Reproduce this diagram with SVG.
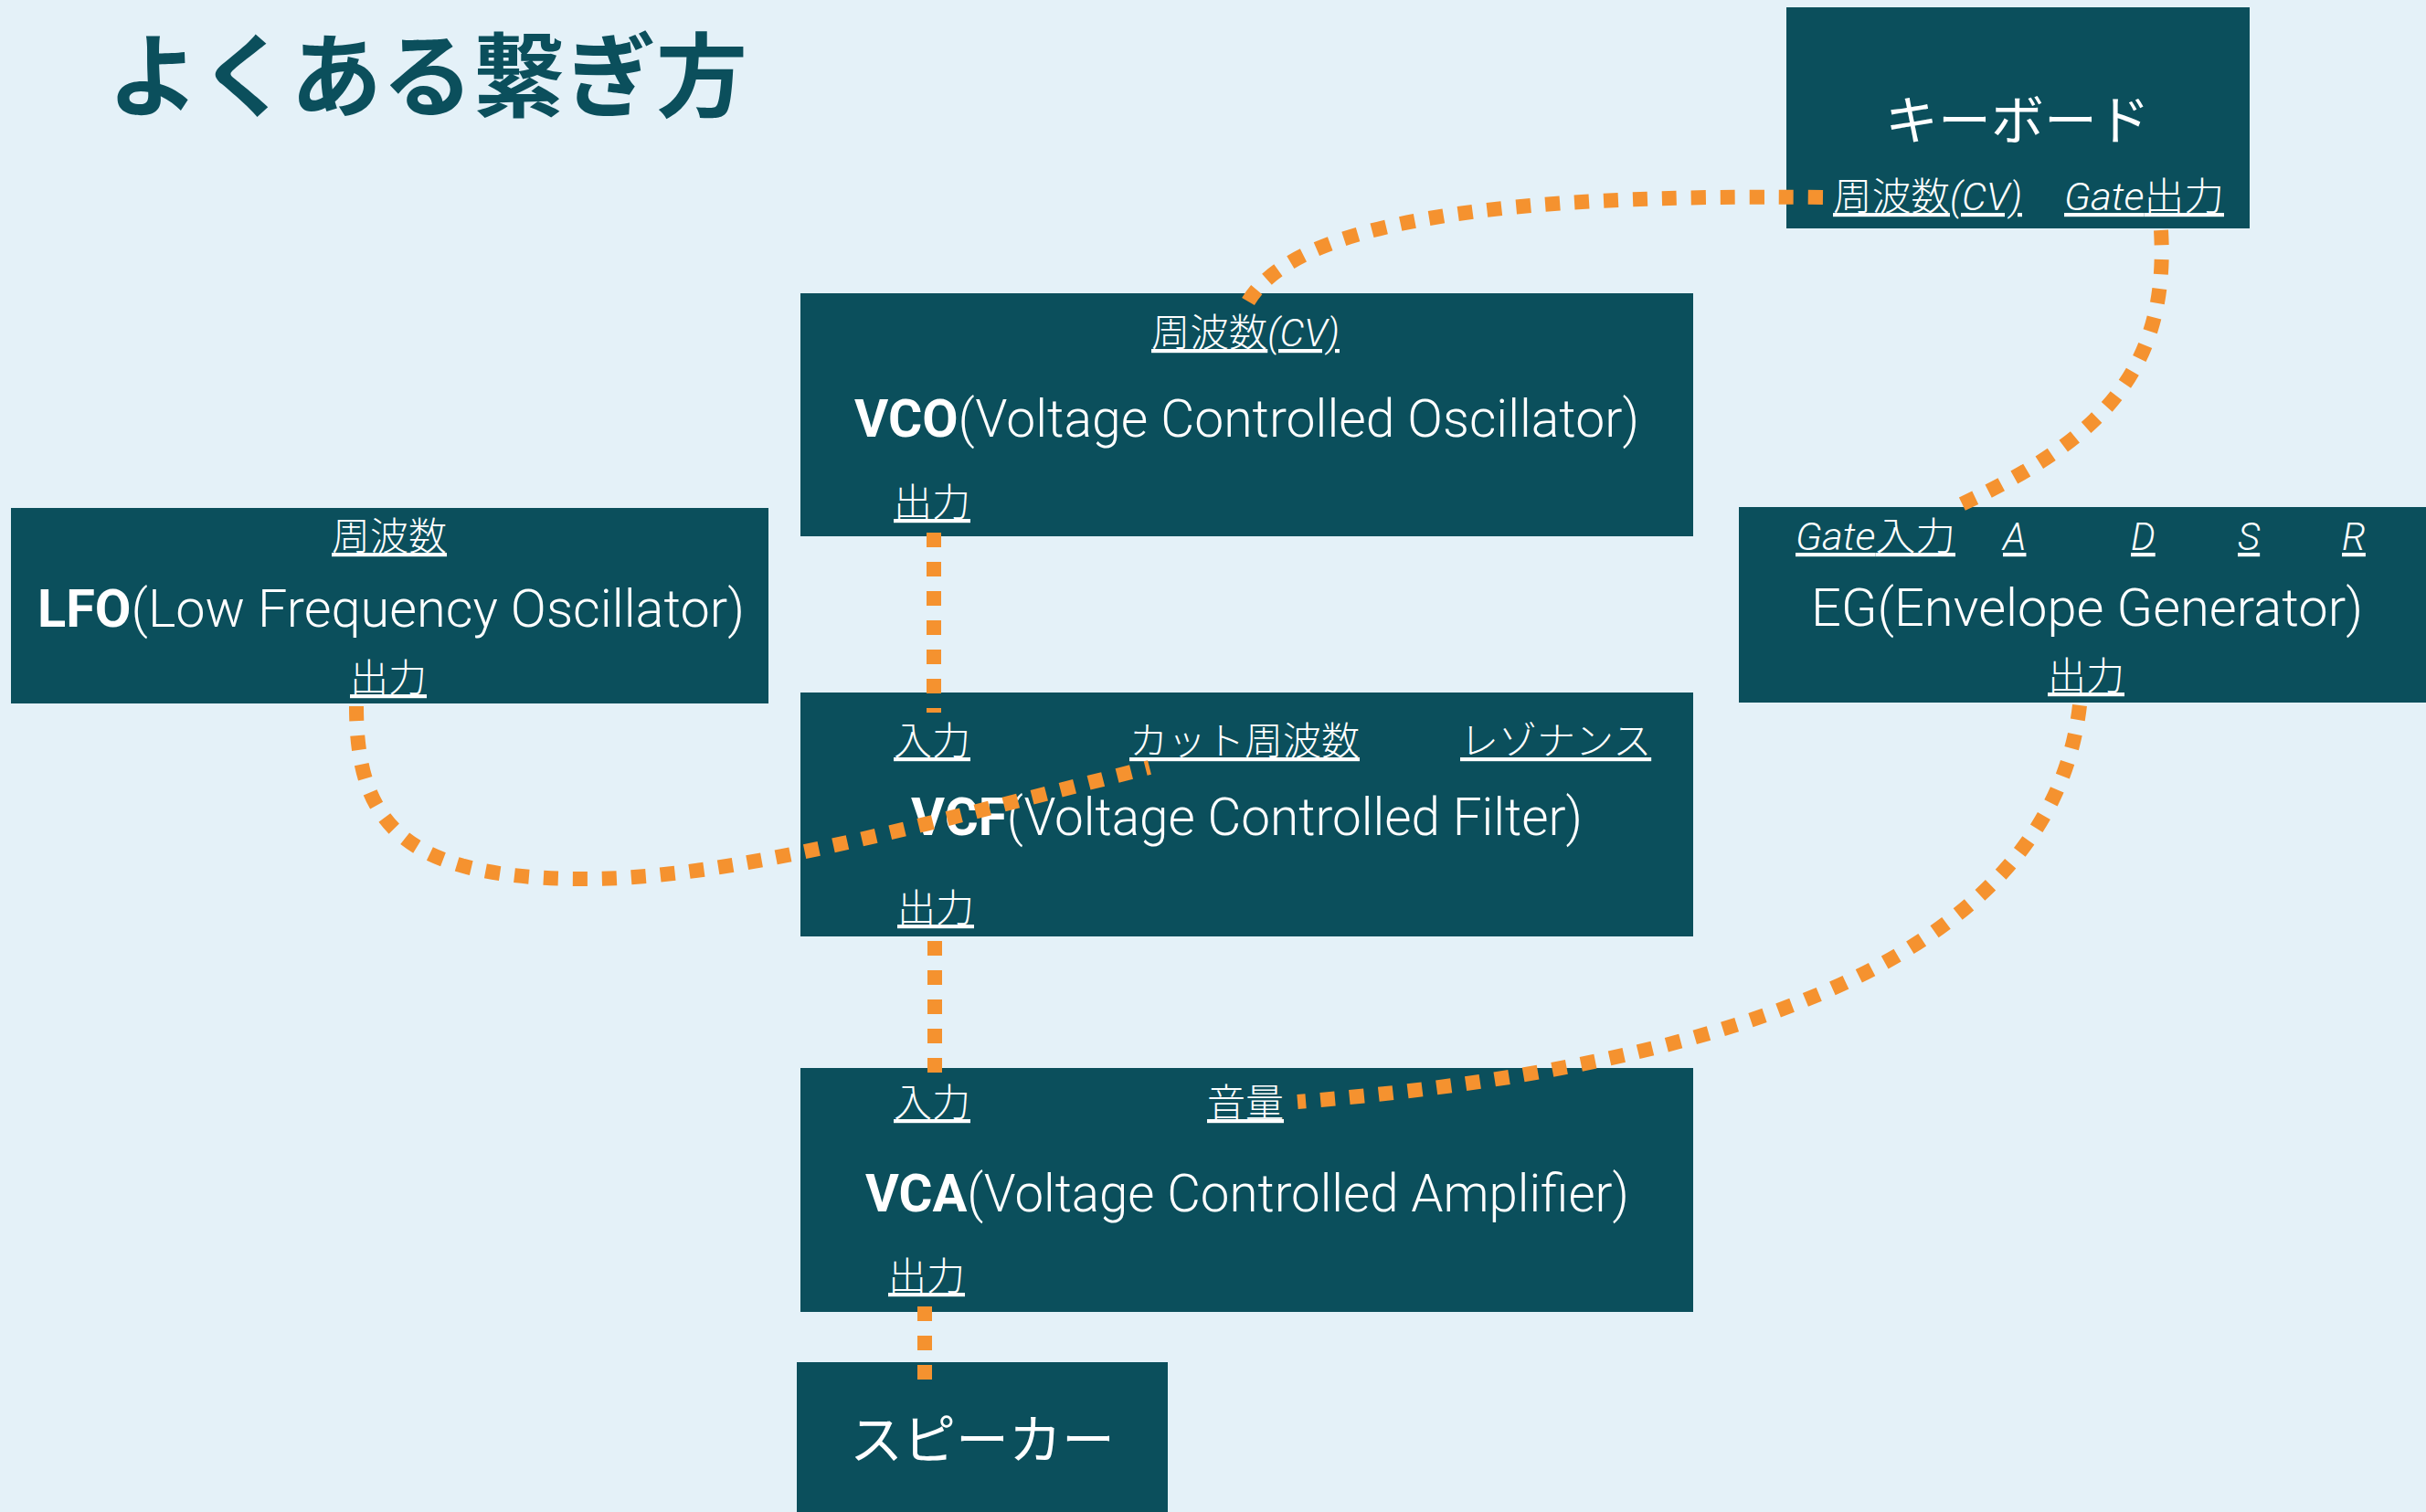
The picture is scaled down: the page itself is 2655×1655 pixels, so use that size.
<svg xmlns="http://www.w3.org/2000/svg" width="2655" height="1655" viewBox="0 0 2655 1655">
<style>
.bg{fill:#E4F1F8}
.node{fill:#0B4F5C}
.title{font-family:"Noto Sans CJK JP","Noto Sans",sans-serif;font-weight:700;font-size:100px;fill:#0B4F5C}
.name{font-family:Roboto,"Liberation Sans","Noto Sans CJK JP",sans-serif;font-weight:300;font-size:58px;fill:#FFFFFF}
.jname{font-family:"Noto Sans CJK JP",sans-serif;font-weight:400;font-size:58px;fill:#FFFFFF}
.b{font-weight:700}
.port{font-family:"Noto Sans CJK JP",sans-serif;font-weight:300;font-size:42px;fill:#FFFFFF;text-decoration:underline}
.it{font-family:Roboto,"Liberation Sans",sans-serif;font-style:italic;font-weight:300}
.wire{fill:none;stroke:#F5922F;stroke-width:16;stroke-dasharray:16 16;stroke-linecap:butt}
</style>
<rect class="bg" x="0" y="0" width="2655" height="1655"/>
<text class="title" x="118" y="120">よくある繋ぎ方</text>

<g id="keyboard">
<rect class="node" x="1955" y="8" width="507" height="242"/>
<text class="jname" x="2208" y="153" text-anchor="middle">キーボード</text>
<text class="port" x="2006" y="230" textLength="207" lengthAdjust="spacingAndGlyphs">周波数<tspan class="it">(CV)</tspan></text>
<text class="port" x="2259" y="230" textLength="175" lengthAdjust="spacingAndGlyphs"><tspan class="it">Gate</tspan>出力</text>
</g>

<g id="vco">
<rect class="node" x="876" y="321" width="977" height="266"/>
<text class="port" x="1260" y="379" textLength="206" lengthAdjust="spacingAndGlyphs">周波数<tspan class="it">(CV)</tspan></text>
<text class="name" x="935" y="478" textLength="859" lengthAdjust="spacingAndGlyphs"><tspan class="b">VCO</tspan>(Voltage Controlled Oscillator)</text>
<text class="port" x="978" y="565">出力</text>
</g>

<g id="lfo">
<rect class="node" x="12" y="556" width="829" height="214"/>
<text class="port" x="363" y="602">周波数</text>
<text class="name" x="41" y="686" textLength="774" lengthAdjust="spacingAndGlyphs"><tspan class="b">LFO</tspan>(Low Frequency Oscillator)</text>
<text class="port" x="383" y="757">出力</text>
</g>

<g id="eg">
<rect class="node" x="1903" y="555" width="760" height="214"/>
<text class="port" x="1965" y="602" textLength="175" lengthAdjust="spacingAndGlyphs"><tspan class="it">Gate</tspan>入力</text>
<text class="port it" x="2192" y="602">A</text>
<text class="port it" x="2332" y="602">D</text>
<text class="port it" x="2449" y="602">S</text>
<text class="port it" x="2563" y="602">R</text>
<text class="name" x="1982" y="685" textLength="604" lengthAdjust="spacingAndGlyphs">EG(Envelope Generator)</text>
<text class="port" x="2241" y="755">出力</text>
</g>

<g id="vcf">
<rect class="node" x="876" y="758" width="977" height="267"/>
<text class="port" x="978" y="826">入力</text>
<text class="port" x="1236" y="826">カット周波数</text>
<text class="port" x="1598" y="826">レゾナンス</text>
<text class="name" x="997" y="914" textLength="735" lengthAdjust="spacingAndGlyphs"><tspan class="b">VCF</tspan>(Voltage Controlled Filter)</text>
<text class="port" x="982" y="1009">出力</text>
</g>

<g id="vca">
<rect class="node" x="876" y="1169" width="977" height="267"/>
<text class="port" x="978" y="1222">入力</text>
<text class="port" x="1321" y="1222">音量</text>
<text class="name" x="947" y="1326" textLength="836" lengthAdjust="spacingAndGlyphs"><tspan class="b">VCA</tspan>(Voltage Controlled Amplifier)</text>
<text class="port" x="972" y="1412">出力</text>
</g>

<g id="speaker">
<rect class="node" x="872" y="1491" width="406" height="170"/>
<text class="jname" x="1075" y="1597" text-anchor="middle">スピーカー</text>
</g>

<g id="connectors">
<path class="wire" d="M 1995 216 C 1650 212, 1420 240, 1366 330"/>
<path class="wire" d="M 2365 252 C 2375 420, 2280 490, 2138 556"/>
<path class="wire" d="M 390 773 C 390 900, 440 962, 640 962 C 800 962, 1000 905, 1258 840"/>
<path class="wire" d="M 2276 772 C 2250 1000, 2000 1160, 1420 1206"/>
<path class="wire" d="M 1022 583 L 1022 780"/>
<path class="wire" d="M 1023 1030 L 1023 1175"/>
<path class="wire" d="M 1012 1430 L 1012 1512"/>
</g>
</svg>
